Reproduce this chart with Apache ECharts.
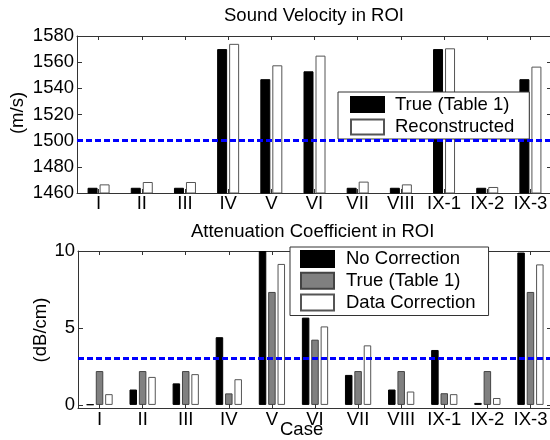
<!DOCTYPE html>
<html>
<head>
<meta charset="utf-8">
<script src="https://cdn.jsdelivr.net/npm/echarts@6/dist/echarts.min.js"></script>
<style>html,body{margin:0;padding:0;background:#fff}#c{width:550px;height:440px}</style>
</head>
<body>
<div id="c"></div>
<script>
const categories = ['I','II','III','IV','V','VI','VII','VIII','IX-1','IX-2','IX-3'];
const velocityTrue = [1464,1464,1464,1570,1547,1553,1464,1464,1570,1464,1547];
const velocityReconstructed = [1466.6,1468.4,1468.4,1574,1557.6,1565,1468.7,1466.6,1570.6,1464.6,1556.6];
const attenNoCorrection = [0.03,1.0,1.4,4.4,10,5.67,1.95,1.0,3.57,0.13,9.9];
const attenTrue = [2.2,2.2,2.2,0.75,7.34,4.24,2.2,2.2,0.76,2.2,7.34];
const attenDataCorrection = [0.7,1.82,2.0,1.67,9.16,5.1,3.87,0.87,0.7,0.45,9.13];
const attenTicks = [0, 5, 10];
const velocityThreshold = 1500;
const attenThreshold = 3;
const legendLabels = {
  svTrue: 'True (Table 1)', svRecon: 'Reconstructed',
  acNo: 'No Correction', acTrue: 'True (Table 1)', acData: 'Data Correction'
};

const FONT = 'Liberation Sans, Arial, Helvetica, sans-serif';
const FS = 18.5;
const axisCol = '#333';
const chart = echarts.init(document.getElementById('c'), null, {renderer: 'canvas'});

function catAxis(gridIndex, pos, showLabel, margin) {
  return {
    type: 'category', gridIndex: gridIndex, position: pos, data: categories,
    axisLine: {show: true, onZero: false, lineStyle: {color: axisCol, width: 1}},
    axisTick: {show: true, inside: true, length: 4, alignWithLabel: true, interval: 0, lineStyle: {color: axisCol}},
    axisLabel: {show: showLabel, interval: 0, hideOverlap: false, color: '#000', fontFamily: FONT, fontSize: FS, margin: margin || 0},
    splitLine: {show: false}
  };
}
function valAxis(gridIndex, pos, min, max, interval, showLabel, ticks) {
  const ax = {
    type: 'value', gridIndex: gridIndex, position: pos, min: min, max: max,
    axisLine: {show: true, onZero: false, lineStyle: {color: axisCol, width: 1}},
    axisTick: {show: true, inside: true, length: 5, lineStyle: {color: axisCol}},
    axisLabel: {show: showLabel, color: '#000', fontFamily: FONT, fontSize: FS, margin: 3,
                formatter: v => String(v)},
    splitLine: {show: false}
  };
  if (ticks) {
    ax.axisTick.customValues = ticks;
    ax.axisLabel.customValues = ticks;
  } else {
    ax.interval = interval;
  }
  return ax;
}
const dash = {
  silent: true, symbol: ['none','none'], label: {show: false},
  lineStyle: {color: '#0000ff', width: 3, type: [6, 3]}
};
const legendText = {color: '#000', fontFamily: FONT, fontSize: FS, lineHeight: 21};
function vText(text, x, y) {
  return {type: 'text', x: x, y: y, rotation: Math.PI / 2,
          style: {text: text, fill: '#000', font: FS + 'px ' + FONT, align: 'center', verticalAlign: 'middle'}};
}

const option = {
  animation: false,
  backgroundColor: '#fff',
  title: [
    {text: 'Sound Velocity in ROI', left: 224, top: 6, padding: 0,
     textStyle: {color: '#000', fontFamily: FONT, fontSize: FS, fontWeight: 'normal'}},
    {text: 'Attenuation Coefficient in ROI', left: 191, top: 222, padding: 0,
     textStyle: {color: '#000', fontFamily: FONT, fontSize: FS, fontWeight: 'normal'}}
  ],
  grid: [
    {left: 77, top: 36, width: 475, height: 157, containLabel: false, outerBoundsMode: 'none'},
    {left: 78, top: 251, width: 474, height: 157, containLabel: false, outerBoundsMode: 'none'}
  ],
  xAxis: [
    catAxis(0, 'bottom', true, 1), catAxis(0, 'top', false),
    catAxis(1, 'bottom', true, 2), catAxis(1, 'top', false)
  ],
  yAxis: [
    valAxis(0, 'left', 1460, 1580, 20, true),
    valAxis(0, 'right', 1460, 1580, 20, false),
    valAxis(1, 'left', -0.2, 10, null, true, attenTicks),
    valAxis(1, 'right', -0.2, 10, null, false, attenTicks)
  ],
  legend: [
    {data: ['svTrue','svRecon'], orient: 'vertical', left: 338, top: 92, icon: 'rect',
     padding: [2, 15, 1.5, 12], itemWidth: 33, itemHeight: 15, itemGap: 1.5,
     backgroundColor: '#fff', borderColor: '#333', borderWidth: 1,
     formatter: n => legendLabels[n], selectedMode: false,
     textStyle: Object.assign({padding: [0,0,0,6]}, legendText)},
    {data: ['acNo','acTrue','acData'], orient: 'vertical', left: 290, top: 247, icon: 'rect',
     padding: [1.5, 13, 2.5, 10], itemWidth: 33, itemHeight: 16, itemGap: 0.75,
     backgroundColor: '#fff', borderColor: '#333', borderWidth: 1,
     formatter: n => legendLabels[n], selectedMode: false,
     textStyle: Object.assign({padding: [0,0,0,7]}, legendText)}
  ],
  series: [
    {name: 'svTrue', type: 'bar', xAxisIndex: 0, yAxisIndex: 0, data: velocityTrue,
     barWidth: 10, barGap: '20%', itemStyle: {color: '#000', borderColor: '#000', borderWidth: 1}},
    {name: 'svRecon', type: 'bar', xAxisIndex: 0, yAxisIndex: 0, data: velocityReconstructed,
     barWidth: 10, barGap: '20%', itemStyle: {color: '#fff', borderColor: '#555', borderWidth: 1},
     markLine: Object.assign({data: [{yAxis: velocityThreshold}]}, dash), z: 3},
    {name: 'acNo', type: 'bar', xAxisIndex: 2, yAxisIndex: 2, data: attenNoCorrection,
     barWidth: 7.5, barGap: '25%', itemStyle: {color: '#000', borderColor: '#000', borderWidth: 1}},
    {name: 'acTrue', type: 'bar', xAxisIndex: 2, yAxisIndex: 2, data: attenTrue,
     barWidth: 7.5, barGap: '25%', itemStyle: {color: '#808080', borderColor: '#444', borderWidth: 1}},
    {name: 'acData', type: 'bar', xAxisIndex: 2, yAxisIndex: 2, data: attenDataCorrection,
     barWidth: 7.5, barGap: '25%', itemStyle: {color: '#fff', borderColor: '#555', borderWidth: 1},
     markLine: Object.assign({data: [{yAxis: attenThreshold}]}, dash), z: 3}
  ],
  graphic: [
    vText('(m/s)', 18, 113),
    vText('(dB/cm)', 41, 330),
    {type: 'text', left: 280, top: 420,
     style: {text: 'Case', fill: '#000', font: FS + 'px ' + FONT}}
  ]
};
chart.setOption(option);
</script>
</body>
</html>
